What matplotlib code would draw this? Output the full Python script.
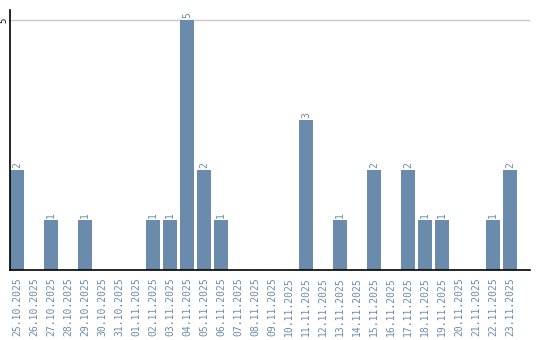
import numpy as np
import matplotlib
matplotlib.use("Agg")
from matplotlib import pyplot

dates = ["25.10.2025", "26.10.2025", "27.10.2025", "28.10.2025", "29.10.2025",
         "30.10.2025", "31.10.2025", "01.11.2025", "02.11.2025", "03.11.2025",
         "04.11.2025", "05.11.2025", "06.11.2025", "07.11.2025", "08.11.2025",
         "09.11.2025", "10.11.2025", "11.11.2025", "12.11.2025", "13.11.2025",
         "14.11.2025", "15.11.2025", "16.11.2025", "17.11.2025", "18.11.2025",
         "19.11.2025", "20.11.2025", "21.11.2025", "22.11.2025", "23.11.2025"]
counts = [2, 0, 1, 0, 1, 0, 0, 0, 1, 1, 5, 2, 1, 0, 0,
          0, 0, 3, 0, 1, 0, 2, 0, 2, 1, 1, 0, 0, 1, 2]

barColor = '#6a8bab'
labelColor = '#6d8cab'


def plotCounts():
    figure = pyplot.figure(figsize = (5.4, 3.4), dpi = 100)
    axes = figure.add_axes([10 / 540, 1 - 270 / 340, 520 / 540, 260 / 340])

    x = np.arange(len(dates))
    width = 14 / 17
    axes.bar(x, counts, width = width, color = barColor, zorder = 2)
    axes.set_xlim(-width / 2, -width / 2 + 520 / 17)
    axes.set_ylim(0, 5.2)

    axes.axhline(5, color = '#c8c8c8', linewidth = 1, zorder = 1)

    for xi, c in zip(x, counts):
        if c > 0:
            axes.text(xi, c + 0.04, str(c), rotation = 90, ha = 'center', va = 'bottom',
                      color = labelColor, fontsize = 7, family = 'DejaVu Sans Mono')

    axes.set_xticks(x)
    axes.set_xticklabels(dates, rotation = 90, color = labelColor, fontsize = 7,
                         family = 'DejaVu Sans Mono')
    axes.set_yticks([5])
    axes.set_yticklabels(['5'], rotation = 90, va = 'center', fontsize = 6.5,
                         family = 'DejaVu Sans Mono')
    axes.tick_params(axis = 'x', length = 0, pad = 5)
    axes.tick_params(axis = 'y', length = 0, pad = 1)

    for side in ['top', 'right']:
        axes.spines[side].set_visible(False)
    axes.spines['left'].set_linewidth(1.2)
    axes.spines['bottom'].set_linewidth(1.2)

    figure.savefig('out.png', dpi = 100)


def main():
    plotCounts()

main()
